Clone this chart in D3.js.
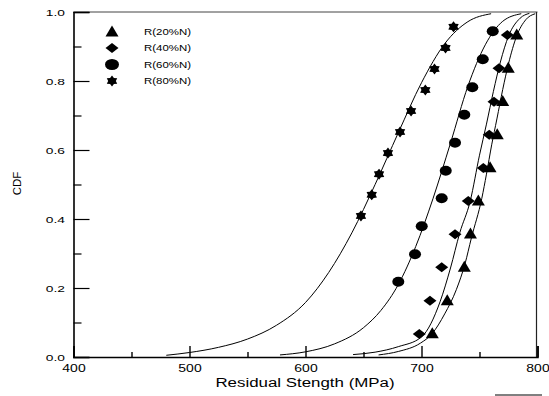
<!DOCTYPE html>
<html>
<head>
<meta charset="utf-8">
<script src="https://cdn.jsdelivr.net/npm/d3@7"></script>
<style>
  html, body { margin: 0; padding: 0; background: #fff; }
  svg { display: block; font-family: "Liberation Sans", Arial, sans-serif; }
</style>
</head>
<body>
<svg id="chart" width="549" height="396"></svg>
<script>
// Series names (legend order)
const categories = ["R(20%N)", "R(40%N)", "R(60%N)", "R(80%N)"];

// Measured residual strength (MPa) and median-rank CDF for each load level
const strength20 = [709.3, 722.2, 736.9, 742.2, 749.0, 759.1, 765.3, 770.0, 774.8, 782.1];
const cdf20      = [0.067, 0.163, 0.260, 0.356, 0.452, 0.548, 0.644, 0.740, 0.837, 0.933];
const strength40 = [698.1, 707.3, 717.4, 728.9, 740.3, 753.3, 758.4, 762.5, 766.8, 774.0];
const cdf40      = [0.067, 0.163, 0.260, 0.356, 0.452, 0.548, 0.644, 0.740, 0.837, 0.933];
const strength60 = [680.0, 694.4, 700.2, 717.4, 720.9, 728.9, 736.9, 743.8, 752.8, 761.4];
const cdf60      = [0.218, 0.298, 0.379, 0.460, 0.540, 0.621, 0.702, 0.782, 0.863, 0.944];
const strength80 = [647.8, 657.1, 663.4, 671.1, 681.5, 691.0, 703.3, 711.2, 720.7, 727.6];
const cdf80      = [0.409, 0.470, 0.530, 0.591, 0.652, 0.713, 0.774, 0.835, 0.896, 0.957];

// Fitted distribution curves
const fit20x = [663, 680, 699, 709, 720, 730, 737.5, 743, 752, 756, 760.5, 765, 770, 775, 782, 790, 798];
const fit20y = [0.006, 0.016, 0.040, 0.067, 0.125, 0.195, 0.270, 0.345, 0.460, 0.530, 0.615, 0.690, 0.775, 0.850, 0.930, 0.978, 0.995];
const fit40x = [641, 660, 680, 700, 716, 725, 733, 742, 750, 756, 762, 768, 775, 785, 793];
const fit40y = [0.007, 0.014, 0.030, 0.058, 0.160, 0.258, 0.360, 0.452, 0.585, 0.675, 0.770, 0.855, 0.930, 0.982, 0.996];
const fit60x = [578, 600, 625, 650, 665, 680, 695, 710, 725, 740, 755, 770, 786];
const fit60y = [0.006, 0.015, 0.038, 0.085, 0.135, 0.210, 0.320, 0.460, 0.620, 0.785, 0.905, 0.973, 0.995];
const fit80x = [480, 500, 525, 550, 575, 600, 620, 640, 660, 680, 700, 720, 740, 760];
const fit80y = [0.005, 0.013, 0.028, 0.052, 0.092, 0.158, 0.245, 0.360, 0.500, 0.650, 0.795, 0.908, 0.972, 0.995];

// Axis ticks
const xMajorTicks = [400, 500, 600, 700, 800];
const xMinorTicks = [450, 550, 650, 750];
const yMajorTicks = [0, 0.2, 0.4, 0.6, 0.8, 1.0];
const yMinorTicks = [0.1, 0.3, 0.5, 0.7, 0.9];

const svg = d3.select("#chart");
const x = d3.scaleLinear().domain([400, 800]).range([73.5, 537.5]);
const y = d3.scaleLinear().domain([0, 1]).range([357, 12]);

// Stretch a text element horizontally to a wider set width
function stretch(sel, k) {
  sel.each(function () {
    const w = this.getComputedTextLength();
    d3.select(this).attr("textLength", w * k).attr("lengthAdjust", "spacingAndGlyphs");
  });
}

// Marker shapes
const shapes = {
  triangle: (w, h) => `M0,${-h * 0.6}L${w / 2},${h * 0.4}L${-w / 2},${h * 0.4}Z`,
  diamond: (w, h) => `M0,${-h / 2}L${w / 2},0L0,${h / 2}L${-w / 2},0Z`,
  ellipse: (w, h) => {
    const rx = w / 2, ry = h / 2;
    return `M${-rx},0A${rx},${ry} 0 1,0 ${rx},0A${rx},${ry} 0 1,0 ${-rx},0Z`;
  },
  hexagram: (w, h) => {
    const r = w / 2, s = h / w;
    const pts = [];
    for (let i = 0; i < 12; i++) {
      const a = -Math.PI / 2 + i * Math.PI / 6;
      const rr = i % 2 === 0 ? r : r * 0.64;
      pts.push([rr * Math.cos(a), rr * Math.sin(a) * s]);
    }
    return "M" + pts.map(p => p[0].toFixed(2) + "," + p[1].toFixed(2)).join("L") + "Z";
  }
};

const series = [
  { name: categories[0], xs: strength20, ys: cdf20, fx: fit20x, fy: fit20y, shape: "triangle", w: 13, h: 11 },
  { name: categories[1], xs: strength40, ys: cdf40, fx: fit40x, fy: fit40y, shape: "diamond", w: 13, h: 10 },
  { name: categories[2], xs: strength60, ys: cdf60, fx: fit60x, fy: fit60y, shape: "ellipse", w: 12, h: 10 },
  { name: categories[3], xs: strength80, ys: cdf80, fx: fit80x, fy: fit80y, shape: "hexagram", w: 12, h: 11 }
];

// Frame: top and right borders
svg.append("line").attr("x1", x(400)).attr("x2", x(800)).attr("y1", y(1)).attr("y2", y(1))
  .attr("stroke", "#444").attr("stroke-width", 1);
svg.append("line").attr("x1", x(800) - 1).attr("x2", x(800) - 1).attr("y1", y(1)).attr("y2", y(0))
  .attr("stroke", "#222").attr("stroke-width", 1.2);

// Fitted curves
const line = d3.line().x(d => x(d[0])).y(d => y(d[1])).curve(d3.curveMonotoneX);
series.forEach(s => {
  svg.append("path")
    .datum(s.fx.map((v, i) => [v, s.fy[i]]))
    .attr("d", line)
    .attr("fill", "none")
    .attr("stroke", "#000")
    .attr("stroke-width", 1);
});

// Data markers
series.forEach(s => {
  svg.append("g").selectAll("path")
    .data(s.xs.map((v, i) => [v, s.ys[i]]))
    .join("path")
    .attr("transform", d => `translate(${x(d[0])},${y(d[1])})`)
    .attr("d", shapes[s.shape](s.w, s.h))
    .attr("fill", "#000");
});

// X axis
const xAxis = svg.append("g").attr("transform", `translate(0,${y(0)})`)
  .call(d3.axisBottom(x).tickValues(xMajorTicks).tickSize(-11).tickPadding(8).tickFormat(d3.format("d")));
xAxis.select(".domain").attr("stroke-width", 1.6);
xAxis.selectAll(".tick line").attr("stroke-width", 1.4);
xAxis.selectAll(".tick text").attr("font-size", 10.5).attr("font-family", "Liberation Sans, Arial, sans-serif")
  .call(stretch, 1.33);
const xMinor = svg.append("g").attr("transform", `translate(0,${y(0)})`)
  .call(d3.axisBottom(x).tickValues(xMinorTicks).tickSize(-5).tickFormat(""));
xMinor.select(".domain").remove();
xMinor.selectAll(".tick line").attr("stroke-width", 1.4);

// Y axis
const yAxis = svg.append("g").attr("transform", `translate(${x(400)},0)`)
  .call(d3.axisLeft(y).tickValues(yMajorTicks).tickSize(-16).tickPadding(8.5).tickFormat(d3.format(".1f")));
yAxis.select(".domain").attr("stroke-width", 1.6);
yAxis.selectAll(".tick line").attr("stroke-width", 1.2);
yAxis.selectAll(".tick text").attr("font-size", 9.5).attr("font-family", "Liberation Sans, Arial, sans-serif")
  .call(stretch, 1.45);
const yMinor = svg.append("g").attr("transform", `translate(${x(400)},0)`)
  .call(d3.axisLeft(y).tickValues(yMinorTicks).tickSize(-8).tickFormat(""));
yMinor.select(".domain").remove();
yMinor.selectAll(".tick line").attr("stroke-width", 1.2);

// Axis titles
svg.append("text").attr("x", 305).attr("y", 386.5).attr("text-anchor", "middle")
  .attr("font-size", 12.5).text("Residual Stength (MPa)").call(stretch, 1.35);
svg.append("text").attr("transform", "translate(20.5,183.5) rotate(-90)").attr("text-anchor", "middle")
  .attr("font-size", 11.5).text("CDF").call(stretch, 1.0);

// Legend
const legend = svg.append("g");
series.forEach((s, i) => {
  const ly = [32, 48, 64.5, 81][i];
  legend.append("path")
    .attr("transform", `translate(112,${ly})`)
    .attr("d", shapes[s.shape](s.w + (i === 2 ? 2 : 0), s.h + (i === 2 ? 1 : 0)))
    .attr("fill", "#000");
  legend.append("text").attr("x", 144).attr("y", ly + 3.3)
    .attr("font-size", 9).text(s.name).call(stretch, 1.27);
});

// Short rule below the plot
svg.append("line").attr("x1", 495).attr("x2", 542).attr("y1", 395).attr("y2", 395)
  .attr("stroke", "#000").attr("stroke-width", 1);
</script>
</body>
</html>
